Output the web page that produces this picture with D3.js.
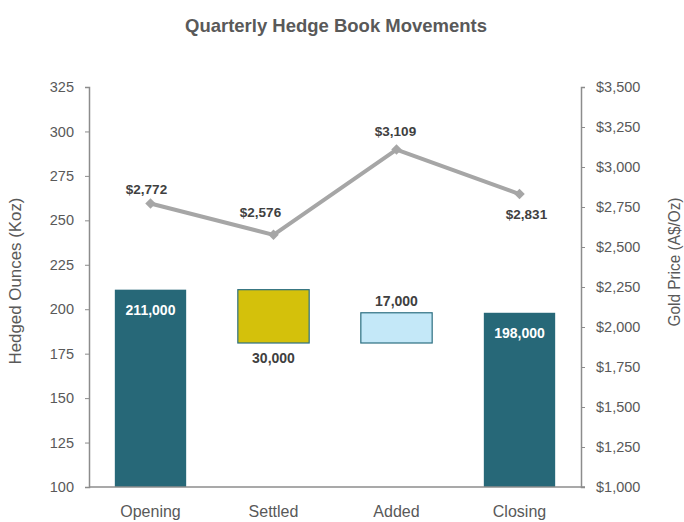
<!DOCTYPE html>
<html>
<head>
<meta charset="utf-8">
<script src="https://cdn.jsdelivr.net/npm/d3@7"></script>
<style>
  body { margin: 0; background: #fff; }
  svg text { font-family: "Liberation Sans Narrow", "Arial Narrow", "Liberation Sans", sans-serif; }
</style>
</head>
<body>
<svg id="chart" width="684" height="522"></svg>
<script>
// chart data
const categories = ["Opening", "Settled", "Added", "Closing"];
const barStart = [100, 211, 181, 100];     // Koz, bottom of each bar
const barEnd = [211, 181, 198, 198];       // Koz, top (or end) of each bar
const barLabels = ["211,000", "30,000", "17,000", "198,000"];
const goldPrice = [2772, 2576, 3109, 2831];
const leftTicks = [100, 125, 150, 175, 200, 225, 250, 275, 300, 325];
const rightTicks = [1000, 1250, 1500, 1750, 2000, 2250, 2500, 2750, 3000, 3250, 3500];

const svg = d3.select("#chart")
const margin = { top: 87, right: 103, bottom: 35, left: 89 }
const width = 684 - margin.left - margin.right
const height = 522 - margin.top - margin.bottom

const textGrey = "#595959"
const axisGrey = "#8c8c8c"

const x = d3.scaleBand()
    .domain(categories)
    .range([0, width])
    .paddingInner(0.42)
    .paddingOuter(0.21)

const yLeft = d3.scaleLinear().domain([100, 325]).range([height, 0])
const yRight = d3.scaleLinear().domain([1000, 3500]).range([height, 0])

// title (squeezed to mimic the narrow font)
svg.append("text")
    .attr("x", 336)
    .attr("y", 32)
    .attr("text-anchor", "middle")
    .attr("textLength", 302)
    .attr("lengthAdjust", "spacingAndGlyphs")
    .style("font-size", "19px")
    .style("font-weight", "bold")
    .style("fill", textGrey)
    .text("Quarterly Hedge Book Movements")

const g = svg.append("g").attr("transform", `translate(${margin.left},${margin.top})`)

// bars
const fills = ["#276878", "#d4c10b", "#c4e8f8", "#276878"]
const strokes = ["#276878", "#2c6f80", "#2c6f80", "#276878"]

g.selectAll("rect.bar")
    .data(categories)
    .join("rect")
    .attr("class", "bar")
    .attr("x", d => x(d))
    .attr("width", x.bandwidth())
    .attr("y", (d, i) => yLeft(Math.max(barStart[i], barEnd[i])))
    .attr("height", (d, i) => Math.abs(yLeft(barStart[i]) - yLeft(barEnd[i])))
    .style("fill", (d, i) => fills[i])
    .style("stroke", (d, i) => strokes[i])
    .style("stroke-width", (d, i) => (i === 1 || i === 2) ? 1.2 : 0)

// bar labels: totals inside in white, movements outside
g.selectAll("text.barLabel")
    .data(categories)
    .join("text")
    .attr("class", "barLabel")
    .attr("x", d => x(d) + x.bandwidth() / 2)
    .attr("y", (d, i) => {
        if (i === 0 || i === 3) return yLeft(barEnd[i]) + 25
        if (barEnd[i] < barStart[i]) return yLeft(barEnd[i]) + 20
        return yLeft(barEnd[i]) - 7
    })
    .attr("text-anchor", "middle")
    .style("font-size", "14px")
    .style("font-weight", "bold")
    .style("fill", (d, i) => (i === 0 || i === 3) ? "#ffffff" : "#404040")
    .text((d, i) => barLabels[i])

// axes
const leftAxis = d3.axisLeft(yLeft).tickValues(leftTicks).tickSize(4).tickPadding(11)
const rightAxis = d3.axisRight(yRight).tickValues(rightTicks)
    .tickSize(4).tickPadding(11).tickFormat(d => "$" + d3.format(",")(d))

const gl = g.append("g").call(leftAxis)
const gr = g.append("g").attr("transform", `translate(${width},0)`).call(rightAxis)

g.append("line")
    .attr("x1", 0).attr("x2", width + 4)
    .attr("y1", height).attr("y2", height)
    .style("stroke", axisGrey)
    .style("stroke-width", 1.5)

;[gl, gr].forEach(a => {
    a.select(".domain").style("stroke", axisGrey).style("stroke-width", 1.5)
    a.selectAll(".tick line").style("stroke", axisGrey)
    a.selectAll(".tick text")
        .style("font-family", "'Liberation Sans Narrow', 'Arial Narrow', sans-serif")
        .style("font-size", "14.5px")
        .style("fill", textGrey)
})

// category labels
g.selectAll("text.cat")
    .data(categories)
    .join("text")
    .attr("class", "cat")
    .attr("x", d => x(d) + x.bandwidth() / 2)
    .attr("y", height + 30)
    .attr("text-anchor", "middle")
    .style("font-size", "16px")
    .style("fill", textGrey)
    .text(d => d)

// axis titles
svg.append("text")
    .attr("transform", "translate(21,281) rotate(-90)")
    .attr("text-anchor", "middle")
    .attr("textLength", 167)
    .attr("lengthAdjust", "spacingAndGlyphs")
    .style("font-size", "17px")
    .style("fill", textGrey)
    .text("Hedged Ounces (Koz)")

svg.append("text")
    .attr("transform", "translate(680,262) rotate(-90)")
    .attr("text-anchor", "middle")
    .attr("textLength", 129)
    .attr("lengthAdjust", "spacingAndGlyphs")
    .style("font-size", "16px")
    .style("fill", textGrey)
    .text("Gold Price (A$/Oz)")

// gold price line
const cx = d => x(d) + x.bandwidth() / 2
const line = d3.line()
    .x(d => cx(d))
    .y((d, i) => yRight(goldPrice[i]))

g.append("path")
    .datum(categories)
    .attr("d", line)
    .style("fill", "none")
    .style("stroke", "#a6a6a6")
    .style("stroke-width", 4)
    .style("stroke-linejoin", "round")

g.selectAll("path.marker")
    .data(categories)
    .join("path")
    .attr("class", "marker")
    .attr("d", d3.symbol().type(d3.symbolDiamond2).size(70))
    .attr("transform", (d, i) => `translate(${cx(d)},${yRight(goldPrice[i])})`)
    .style("fill", "#a6a6a6")

// price labels: last one sits below its point
const priceLabelShift = [[-4, -14], [-13, -23], [-1, -18], [7, 20]]
g.selectAll("text.price")
    .data(categories)
    .join("text")
    .attr("class", "price")
    .attr("x", (d, i) => cx(d) + priceLabelShift[i][0])
    .attr("y", (d, i) => yRight(goldPrice[i]) + priceLabelShift[i][1])
    .attr("dy", "0.35em")
    .attr("text-anchor", "middle")
    .style("font-size", "13.5px")
    .style("font-weight", "bold")
    .style("fill", "#404040")
    .text((d, i) => "$" + d3.format(",")(goldPrice[i]))
</script>
</body>
</html>
